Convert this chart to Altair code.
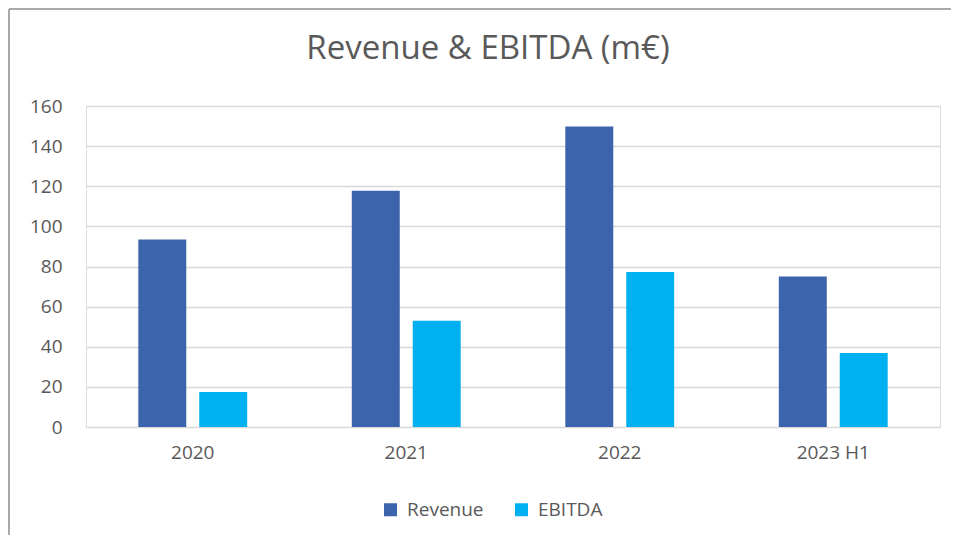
import altair as alt
import pandas as pd

categories = ["2020", "2021", "2022", "2023 H1"]
revenue = [93.5, 117.8, 149.8, 75.0]
ebitda = [17.5, 53.0, 77.3, 36.9]
series = ["Revenue", "EBITDA"]
colors = ["#3C64AD", "#00B0F0"]
y_ticks = [0, 20, 40, 60, 80, 100, 120, 140, 160]

rows = []
for c, r, e in zip(categories, revenue, ebitda):
    rows.append({"cat": c, "series": "Revenue", "value": r})
    rows.append({"cat": c, "series": "EBITDA", "value": e})
df = pd.DataFrame(rows)

FONT = "Open Sans"
TXT = "#595959"

bars = alt.Chart(df).mark_bar().encode(
    x=alt.X("cat:N", sort=categories, title=None,
            scale=alt.Scale(paddingInner=0.49, paddingOuter=0.245),
            axis=alt.Axis(labelAngle=0, ticks=False, domain=False,
                          labelFontSize=19, labelColor=TXT, labelFont=FONT,
                          labelPadding=16, grid=False)),
    xOffset=alt.XOffset("series:N", sort=series,
                        scale=alt.Scale(paddingInner=0.213, paddingOuter=0)),
    y=alt.Y("value:Q", title=None,
            scale=alt.Scale(domain=[0, 160], nice=False),
            axis=alt.Axis(values=y_ticks, ticks=False, domain=False,
                          labelFontSize=19, labelColor=TXT, labelFont=FONT,
                          labelPadding=24, gridColor="#D9D9D9", gridWidth=1.5)),
    color=alt.Color("series:N", sort=series,
                    scale=alt.Scale(domain=series, range=colors),
                    legend=alt.Legend(title=None, orient="none", direction="horizontal",
                                      legendX=295, legendY=394,
                                      symbolType="square", symbolSize=169,
                                      symbolStrokeWidth=0, labelFontSize=19,
                                      labelColor=TXT, labelFont=FONT,
                                      labelOffset=7, columnPadding=28, padding=0)),
)

border_left = alt.Chart(pd.DataFrame({"a": [0]})).mark_rule(color="#8C8C8C", strokeWidth=1.5).encode(
    x=alt.value(-77), y=alt.value(-97), y2=alt.value(500)
)
border_top = alt.Chart(pd.DataFrame({"a": [0]})).mark_rule(color="#8C8C8C", strokeWidth=1.5).encode(
    x=alt.value(-77), x2=alt.value(900), y=alt.value(-97)
)

chart = alt.layer(bars, border_left, border_top).properties(
    width=854, height=321,
    title=alt.TitleParams("Revenue & EBITDA (m€)", fontSize=33, font=FONT,
                          fontWeight="normal", color=TXT, anchor="middle",
                          frame="group", baseline="bottom", dx=-25, dy=91, offset=0),
    autosize=alt.AutoSizeParams(type="none"),
    padding={"left": 78, "top": 98, "right": 11, "bottom": 108},
).configure_view(stroke=None).configure(background="white")

chart.save("out.html", embed_options={"renderer": "svg", "actions": False})
